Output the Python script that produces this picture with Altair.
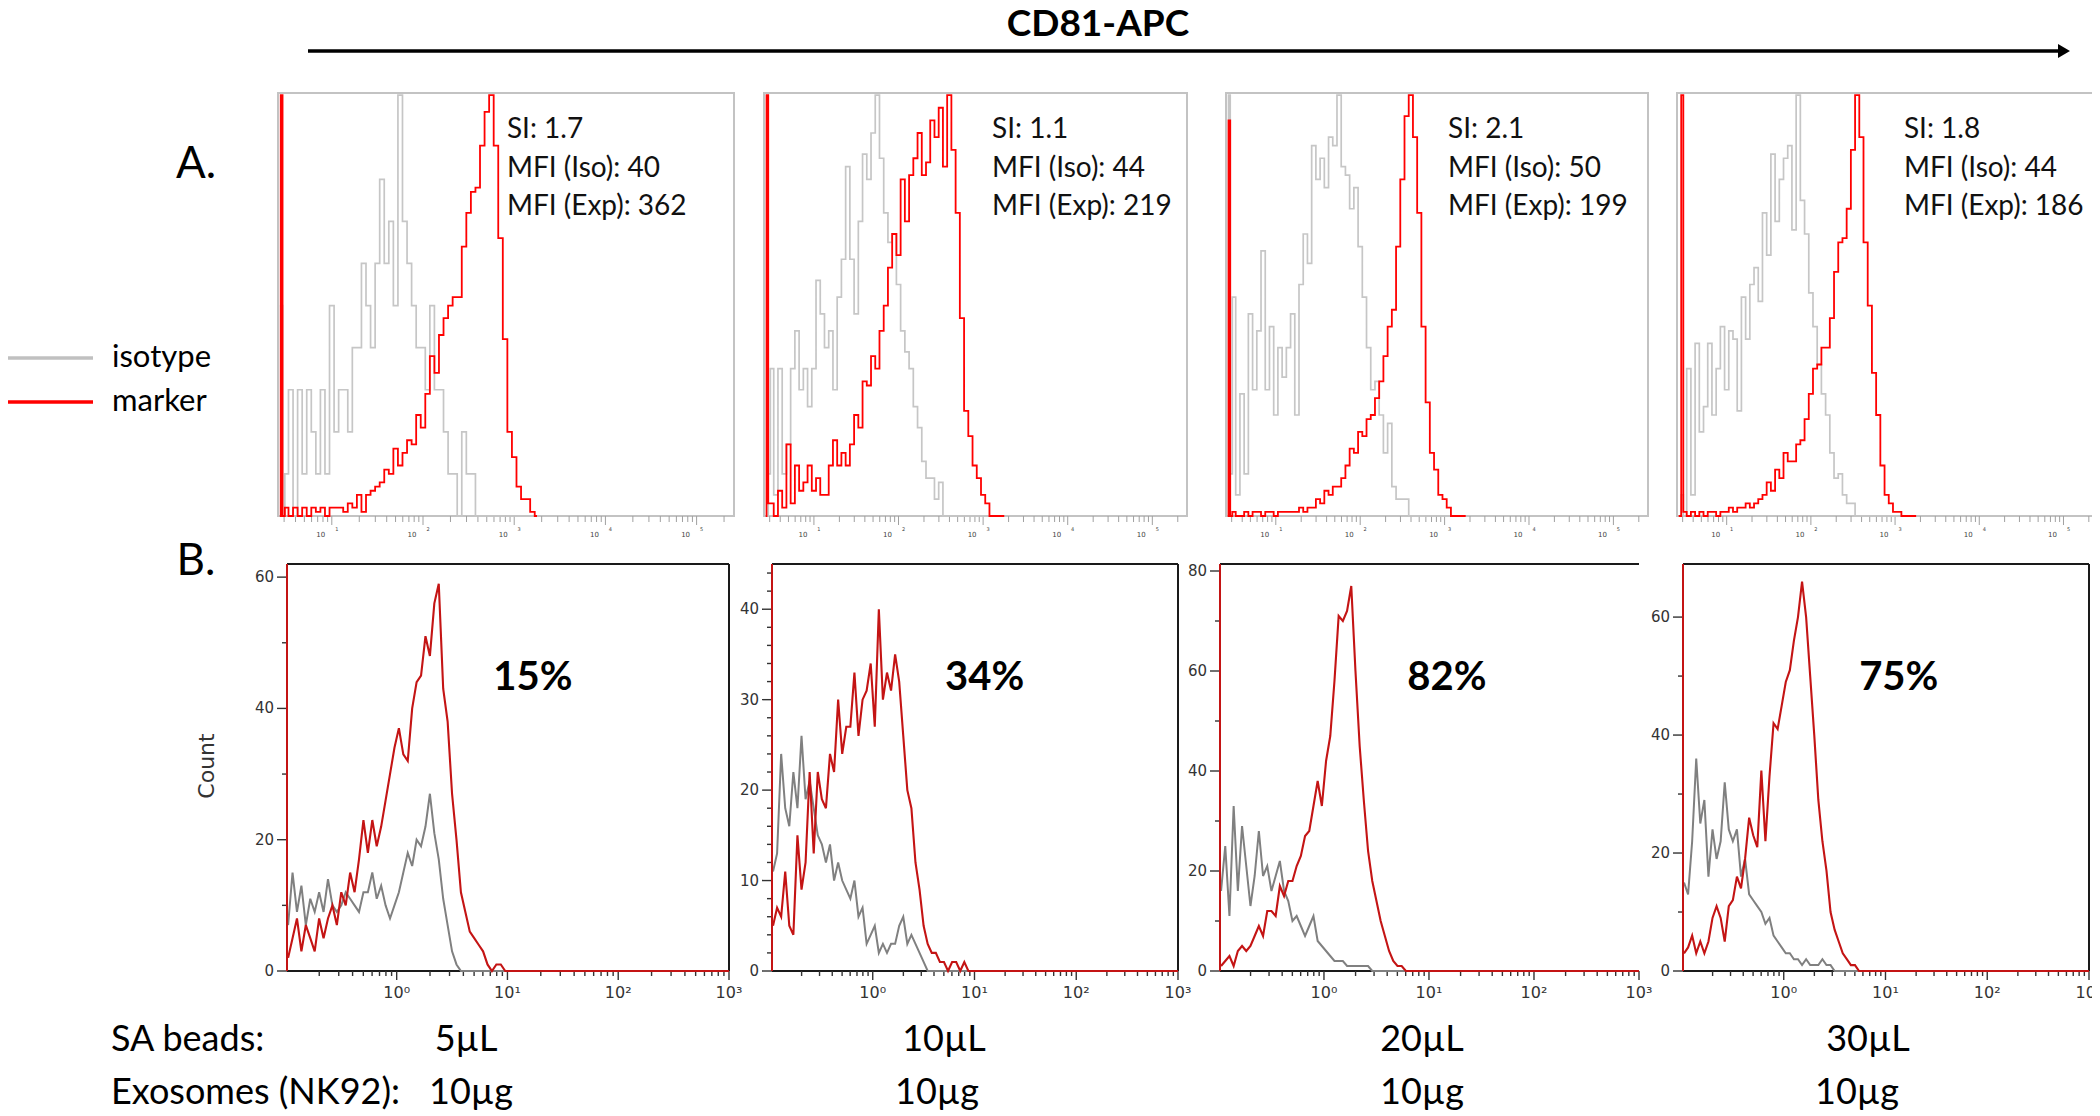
import math
import altair as alt
import pandas as pd

OFF = 8  # page margin of the html page

# ---------------------------------------------------------------- data ----
# Row A: histogram bins (log10 of CD81-APC intensity), values in % of mode
TOP_LOG_BINS = [0.43, 0.45, 0.47, 0.50, 0.55, 0.60, 0.65, 0.70, 0.75, 0.80,
                0.85, 0.90, 0.95, 1.00, 1.05, 1.10, 1.15, 1.20, 1.25, 1.30,
                1.35, 1.40, 1.45, 1.50, 1.55, 1.60, 1.65, 1.70, 1.75, 1.80,
                1.85, 1.90, 1.95, 2.00, 2.05, 2.10, 2.15, 2.20, 2.25, 2.30,
                2.35, 2.40, 2.45, 2.50, 2.55, 2.60, 2.65, 2.70, 2.75, 2.80,
                2.85, 2.90, 2.95, 3.00, 3.05, 3.10, 3.15, 3.20, 3.25]

A1_ISOTYPE = [0, 50, 0, 10, 30, 0, 30, 10, 30, 20,
              10, 30, 10, 50, 20, 30, 30, 20, 40, 40,
              60, 50, 40, 60, 80, 60, 70, 50, 100, 70,
              60, 50, 40, 40, 30, 50, 30, 30, 20, 10,
              10, 0, 20, 10, 10, 0, 0, 0, 0, 0,
              0, 0, 0, 0, 0, 0, 0, 0, 0]
A1_MARKER = [0, 100, 0, 2, 0, 2, 0, 2, 0, 2,
             1, 2, 0, 2, 2, 2, 1, 3, 2, 5,
             1, 5, 6, 7, 8, 11, 10, 16, 12, 15,
             18, 17, 24, 21, 29, 38, 34, 43, 47, 50,
             52, 52, 64, 72, 77, 78, 88, 96, 100, 88,
             66, 42, 20, 14, 7, 4, 4, 1, 0]

A2_ISOTYPE = [0, 0, 10, 35, 5, 35, 10, 17, 35, 44,
              30, 35, 26, 35, 56, 48, 40, 44, 30, 52,
              61, 83, 61, 48, 70, 86, 80, 91, 100, 85,
              72, 65, 67, 55, 44, 39, 35, 26, 21, 13,
              9, 9, 4, 8, 0, 0, 0, 0, 0, 0,
              0, 0, 0, 0, 0, 0, 0, 0, 0]
A2_MARKER = [0, 100, 3, 3, 0, 6, 2, 17, 3, 12,
             6, 8, 12, 6, 9, 5, 5, 12, 18, 12,
             15, 12, 17, 24, 21, 32, 31, 38, 35, 44,
             50, 59, 67, 62, 80, 70, 81, 85, 91, 81,
             84, 94, 90, 97, 83, 100, 87, 72, 47, 25,
             19, 12, 9, 5, 3, 0, 0, 0, 0]

A3_ISOTYPE = [0, 100, 10, 52, 5, 29, 10, 48, 30, 44,
              63, 30, 45, 24, 40, 33, 40, 48, 24, 55,
              67, 60, 88, 80, 85, 78, 90, 88, 100, 83,
              81, 73, 78, 64, 52, 40, 30, 32, 24, 15,
              22, 7, 4, 4, 4, 0, 0, 0, 0, 0,
              0, 0, 0, 0, 0, 0, 0, 0, 0]
A3_MARKER = [0, 94, 0, 1, 0, 0, 1, 0, 1, 1,
             0, 1, 1, 0, 1, 1, 1, 1, 1, 2,
             1, 2, 2, 4, 3, 6, 5, 7, 7, 9,
             12, 16, 15, 20, 19, 23, 24, 28, 32, 38,
             45, 49, 64, 80, 95, 100, 90, 72, 45, 27,
             15, 11, 5, 4, 2, 0, 0, 0, 0]

A4_ISOTYPE = [0, 0, 5, 0, 35, 5, 41, 20, 26, 41,
              24, 35, 45, 30, 44, 42, 25, 52, 42, 55,
              59, 51, 72, 62, 86, 70, 80, 85, 88, 68,
              100, 75, 67, 53, 45, 36, 29, 24, 15, 9,
              10, 5, 3, 3, 0, 0, 0, 0, 0, 0,
              0, 0, 0, 0, 0, 0, 0, 0, 0]
A4_MARKER = [0, 0, 100, 1, 0, 1, 0, 1, 0, 1,
             1, 0, 1, 1, 2, 1, 2, 2, 3, 2,
             3, 4, 5, 8, 6, 11, 9, 15, 13, 13,
             17, 18, 23, 29, 35, 36, 40, 40, 47, 58,
             65, 66, 73, 87, 100, 90, 65, 50, 34, 24,
             12, 5, 3, 1, 1, 0, 0, 0, 0]

A_INFO = [("SI: 1.7", "MFI (Iso): 40", "MFI (Exp): 362"),
          ("SI: 1.1", "MFI (Iso): 44", "MFI (Exp): 219"),
          ("SI: 2.1", "MFI (Iso): 50", "MFI (Exp): 199"),
          ("SI: 1.8", "MFI (Iso): 44", "MFI (Exp): 186")]
A_INFO_LX = [2.92, 3.105, 3.04, 3.105]

# Row B: histogram bins (log10 of intensity), counts
BOTTOM_LOG_BINS = [-0.98, -0.94, -0.90, -0.86, -0.82, -0.78, -0.74, -0.70, -0.66, -0.62,
                   -0.58, -0.54, -0.50, -0.46, -0.42, -0.38, -0.34, -0.30, -0.26, -0.22,
                   -0.18, -0.14, -0.10, -0.06, -0.02, 0.02, 0.06, 0.10, 0.14, 0.18,
                   0.22, 0.26, 0.30, 0.34, 0.38, 0.42, 0.46, 0.50, 0.54, 0.58,
                   0.62, 0.66, 0.70, 0.74, 0.78, 0.82, 0.86, 0.90, 0.94, 0.98,
                   1.02, 1.06, 1.10, 1.14, 1.18, 1.22, 1.26, 1.30, 3.00]

B1_MARKER = [2, 5, 8, 3, 7, 5, 3, 8, 5, 8,
             10, 7, 12, 10, 15, 12, 17, 23, 18, 23,
             19, 22, 26, 30, 34, 37, 33, 32, 40, 44,
             45, 51, 48, 56, 59, 43, 38, 27, 20, 12,
             9, 6, 5, 4, 3, 1, 0, 1, 1, 0,
             0, 0, 0, 0, 0, 0, 0, 0, 0]
B1_ISOTYPE = [7, 15, 9, 13, 7, 11, 9, 12, 9, 14,
              10, 9, 10, 12, 11, 10, 9, 12, 12, 15,
              11, 13, 10, 8, 10, 12, 15, 18, 16, 20,
              19, 22, 27, 21, 17, 11, 7, 3, 1, 0,
              0, 0, 0, 0, 0, 0, 0, 0, 0, 0,
              0, 0, 0, 0, 0, 0, 0, 0, 0]

B2_MARKER = [5, 7, 6, 11, 5, 4, 15, 9, 12, 22,
             13, 22, 19, 18, 24, 22, 30, 24, 27, 27,
             33, 26, 30, 31, 34, 27, 40, 30, 33, 31,
             35, 32, 26, 20, 18, 12, 9, 5, 3, 2,
             2, 1, 1, 0, 1, 1, 0, 1, 0, 0,
             0, 0, 0, 0, 0, 0, 0, 0, 0]
B2_ISOTYPE = [11, 13, 24, 18, 16, 22, 18, 26, 19, 21,
              18, 15, 14, 12, 14, 10, 12, 10, 9, 8,
              10, 6, 7, 3, 4, 5, 2, 3, 2, 3,
              3, 5, 6, 3, 4, 3, 2, 1, 0, 0,
              0, 0, 0, 0, 0, 0, 0, 0, 0, 0,
              0, 0, 0, 0, 0, 0, 0, 0, 0]

B3_MARKER = [1, 2, 3, 1, 4, 5, 4, 5, 7, 9,
             7, 12, 12, 11, 17, 15, 18, 18, 21, 23,
             27, 28, 33, 38, 33, 42, 47, 58, 71, 70,
             72, 77, 60, 45, 34, 24, 18, 14, 10, 7,
             4, 2, 1, 1, 0, 0, 0, 0, 0, 0,
             0, 0, 0, 0, 0, 0, 0, 0, 0]
B3_ISOTYPE = [16, 25, 11, 33, 16, 29, 21, 13, 19, 28,
              19, 21, 16, 19, 22, 16, 14, 10, 11, 9,
              7, 9, 11, 6, 5, 4, 3, 2, 2, 2,
              1, 1, 1, 1, 1, 1, 0, 0, 0, 0,
              0, 0, 0, 0, 0, 0, 0, 0, 0, 0,
              0, 0, 0, 0, 0, 0, 0, 0, 0]

B4_MARKER = [3, 4, 6, 3, 5, 3, 5, 9, 11, 9,
             5, 11, 12, 16, 14, 19, 26, 23, 21, 34,
             22, 33, 42, 41, 45, 49, 51, 56, 60, 66,
             60, 50, 40, 29, 22, 17, 10, 7, 5, 3,
             2, 1, 1, 0, 0, 0, 0, 0, 0, 0,
             0, 0, 0, 0, 0, 0, 0, 0, 0]
B4_ISOTYPE = [15, 13, 22, 36, 25, 29, 16, 24, 19, 22,
              32, 24, 22, 24, 16, 19, 13, 12, 11, 10,
              8, 9, 6, 5, 4, 3, 3, 2, 2, 1,
              2, 1, 1, 1, 2, 1, 1, 0, 0, 0,
              0, 0, 0, 0, 0, 0, 0, 0, 0, 0,
              0, 0, 0, 0, 0, 0, 0, 0, 0]

B_PERCENT = ["15%", "34%", "82%", "75%"]
B_PERCENT_POS = [(1.23, 44.6), (1.10, 32.4), (1.17, 58.6), (1.13, 49.7)]
B_YMAX = [62, 45, 81.4, 69]
B_YLABELS = [[0, 20, 40, 60], [0, 10, 20, 30, 40], [0, 20, 40, 60, 80], [0, 20, 40, 60]]
B_YMINOR = [[10, 30, 50],
            [2, 4, 6, 8, 12, 14, 16, 18, 22, 24, 26, 28, 32, 34, 36, 38, 42, 44],
            [10, 30, 50, 70],
            [10, 30, 50]]

TOP_MAJOR = [1, 2, 3, 4, 5]
TOP_EXPONENTS = ["1", "2", "3", "4", "5"]
BOTTOM_MAJOR = [0, 1, 2, 3]
BOTTOM_TICK_LABELS = ["10\u2070", "10\u00b9", "10\u00b2", "10\u00b3"]

SA_BEADS = ["5\u00b5L", "10\u00b5L", "20\u00b5L", "30\u00b5L"]
EXOSOMES = ["10\u00b5g", "10\u00b5g", "10\u00b5g", "10\u00b5g"]

# ------------------------------------------------------------- layout ----
TOP_DOMAIN = [0.41, 5.41]
TOP_X = [(278, 734), (764, 1187), (1226, 1648), (1677, 2098)]
TOP_Y = (516, 93)
TOP_YMAX = 100.5

BOT_DOMAIN = [-0.99, 3.0]
BOT_X = [(287, 729), (772, 1178), (1220, 1639), (1683, 2089)]
BOT_Y = (971, 564)

FONT = "Lato"
AXFONT = "DejaVu Sans"

TOP_MINOR = [math.log10(k) + d for d in range(0, 6) for k in range(2, 10)
             if TOP_DOMAIN[0] < math.log10(k) + d < TOP_DOMAIN[1]]
BOT_MINOR = [math.log10(k) + d for d in range(-1, 3) for k in range(2, 10)
             if BOT_DOMAIN[0] < math.log10(k) + d < BOT_DOMAIN[1]]


def top_panel(k, iso, mk):
    x0, x1 = TOP_X[k]
    xs = alt.Scale(domain=TOP_DOMAIN, range=[x0 - OFF, x1 - OFF], nice=False, zero=False)
    ys = alt.Scale(domain=[0, TOP_YMAX], range=[TOP_Y[0] - OFF, TOP_Y[1] - OFF], nice=False, zero=False)
    upp = TOP_YMAX / (TOP_Y[0] - TOP_Y[1])  # data units per pixel

    def X(f):
        return alt.X(f, type="quantitative", scale=xs, axis=None)

    def Y(f):
        return alt.Y(f, type="quantitative", scale=ys, axis=None)

    curves = pd.DataFrame({"lx": TOP_LOG_BINS, "iso": iso, "mk": mk})
    gray = alt.Chart(curves).mark_line(interpolate="step", color="#c6c6c6", strokeWidth=1.7).encode(
        x=X("lx"), y=Y("iso"))
    red = alt.Chart(curves).mark_line(interpolate="step", color="#ff0000", strokeWidth=1.8).encode(
        x=X("lx"), y=Y("mk"))
    frame = alt.Chart(pd.DataFrame({"a": [TOP_DOMAIN[0]], "b": [TOP_DOMAIN[1]], "c": [0.0], "d": [TOP_YMAX]})
                      ).mark_rect(fillOpacity=0, stroke="#c3c3c3", strokeWidth=2).encode(
        x=X("a"), x2="b", y=Y("c"), y2="d")
    ticks_df = pd.DataFrame({
        "lx": TOP_MAJOR + TOP_MINOR,
        "y0": [0.0] * (len(TOP_MAJOR) + len(TOP_MINOR)),
        "y1": [-9 * upp] * len(TOP_MAJOR) + [-6 * upp] * len(TOP_MINOR)})
    ticks = alt.Chart(ticks_df).mark_rule(color="#a0a0a0", strokeWidth=1).encode(
        x=X("lx"), y=Y("y0"), y2="y1")
    lab_df = pd.DataFrame({"lx": TOP_MAJOR, "y": [0.0] * 5, "e": TOP_EXPONENTS, "b": ["10"] * 5})
    lab10 = alt.Chart(lab_df).mark_text(font=AXFONT, fontSize=7, color="#444", dx=-11, dy=19,
                                        baseline="middle").encode(x=X("lx"), y=Y("y"), text="b:N")
    labexp = alt.Chart(lab_df).mark_text(font=AXFONT, fontSize=5, color="#444", dx=5, dy=13,
                                         baseline="middle").encode(x=X("lx"), y=Y("y"), text="e:N")
    info_df = pd.DataFrame({"lx": [A_INFO_LX[k]] * 3, "y": [91.7, 82.5, 73.5], "t": list(A_INFO[k])})
    info = alt.Chart(info_df).mark_text(font=FONT, fontSize=28, color="#111", align="left",
                                        baseline="middle").encode(x=X("lx"), y=Y("y"), text="t:N")
    return alt.layer(frame, ticks, lab10, labexp, gray, red, info)


def bottom_panel(k, iso, mk, right_border=True):
    x0, x1 = BOT_X[k]
    ymax = B_YMAX[k]
    xs = alt.Scale(domain=BOT_DOMAIN, range=[x0 - OFF, x1 - OFF], nice=False, zero=False)
    ys = alt.Scale(domain=[0, ymax], range=[BOT_Y[0] - OFF, BOT_Y[1] - OFF], nice=False, zero=False)
    upp_y = ymax / (BOT_Y[0] - BOT_Y[1])
    upp_x = (BOT_DOMAIN[1] - BOT_DOMAIN[0]) / (x1 - x0)

    def X(f):
        return alt.X(f, type="quantitative", scale=xs, axis=None)

    def Y(f):
        return alt.Y(f, type="quantitative", scale=ys, axis=None)

    curves = pd.DataFrame({"lx": BOTTOM_LOG_BINS, "iso": iso, "mk": mk})
    gray = alt.Chart(curves).mark_line(color="#808080", strokeWidth=2.0).encode(x=X("lx"), y=Y("iso"))
    red = alt.Chart(curves).mark_line(color="#c41414", strokeWidth=2.1).encode(x=X("lx"), y=Y("mk"))

    edges = pd.DataFrame({"x": [BOT_DOMAIN[0], BOT_DOMAIN[0]], "x2": [BOT_DOMAIN[1], BOT_DOMAIN[1]],
                          "y": [ymax, 0.0]})
    hedges = alt.Chart(edges).mark_rule(color="#1a1a1a", strokeWidth=2).encode(
        x=X("x"), x2="x2", y=Y("y"))
    vdf = pd.DataFrame({"x": [BOT_DOMAIN[1]], "y": [0.0], "y2": [ymax]})
    layers = [hedges]
    if right_border:
        layers.append(alt.Chart(vdf).mark_rule(color="#1a1a1a", strokeWidth=2).encode(
            x=X("x"), y=Y("y"), y2="y2"))
    left = alt.Chart(pd.DataFrame({"x": [BOT_DOMAIN[0]], "y": [0.0], "y2": [ymax]})).mark_rule(
        color="#c41414", strokeWidth=2).encode(x=X("x"), y=Y("y"), y2="y2")

    xt = pd.DataFrame({
        "lx": BOTTOM_MAJOR + BOT_MINOR,
        "y0": [0.0] * (len(BOTTOM_MAJOR) + len(BOT_MINOR)),
        "y1": [-9 * upp_y] * len(BOTTOM_MAJOR) + [-5 * upp_y] * len(BOT_MINOR)})
    xticks = alt.Chart(xt).mark_rule(color="#333", strokeWidth=1.4).encode(x=X("lx"), y=Y("y0"), y2="y1")
    xl = pd.DataFrame({"lx": BOTTOM_MAJOR, "y": [0.0] * 4, "t": BOTTOM_TICK_LABELS})
    xlabels = alt.Chart(xl).mark_text(font=AXFONT, fontSize=16, color="#333", dy=22,
                                      baseline="middle").encode(x=X("lx"), y=Y("y"), text="t:N")

    yl = B_YLABELS[k]
    ym = B_YMINOR[k]
    yt = pd.DataFrame({
        "x0": [BOT_DOMAIN[0]] * (len(yl) + len(ym)),
        "x1": [BOT_DOMAIN[0] - 10 * upp_x] * len(yl) + [BOT_DOMAIN[0] - 5 * upp_x] * len(ym),
        "y": yl + ym})
    yticks = alt.Chart(yt).mark_rule(color="#333", strokeWidth=1.4).encode(x=X("x0"), x2="x1", y=Y("y"))
    ylab_df = pd.DataFrame({"x": [BOT_DOMAIN[0]] * len(yl), "y": yl, "t": [str(v) for v in yl]})
    ylabels = alt.Chart(ylab_df).mark_text(font=AXFONT, fontSize=15, color="#333", align="right",
                                           dx=-13, baseline="middle").encode(x=X("x"), y=Y("y"), text="t:N")
    px, py = B_PERCENT_POS[k]
    pct = alt.Chart(pd.DataFrame({"x": [px], "y": [py], "t": [B_PERCENT[k]]})).mark_text(
        font=FONT, fontSize=40, fontWeight="bold", color="black", baseline="middle").encode(
        x=X("x"), y=Y("y"), text="t:N")
    layers += [xticks, xlabels, yticks, ylabels, gray, red, left, pct]
    return alt.layer(*layers)


def canvas():
    xs = alt.Scale(domain=[0, 2100], range=[-OFF, 2100 - OFF], nice=False, zero=False)
    ys = alt.Scale(domain=[0, 1116], range=[-OFF, 1116 - OFF], nice=False, zero=False)

    def X(f):
        return alt.X(f, type="quantitative", scale=xs, axis=None)

    def Y(f):
        return alt.Y(f, type="quantitative", scale=ys, axis=None)

    title = alt.Chart(pd.DataFrame({"x": [1098], "y": [25], "t": ["CD81-APC"]})).mark_text(
        font=FONT, fontSize=37, fontWeight="bold", baseline="middle").encode(x=X("x"), y=Y("y"), text="t:N")
    arrow_line = alt.Chart(pd.DataFrame({"x": [308], "x2": [2060], "y": [51]})).mark_rule(
        color="black", strokeWidth=3.5).encode(x=X("x"), x2="x2", y=Y("y"))
    arrow_head = alt.Chart(pd.DataFrame({"x": [2064], "y": [51]})).mark_point(
        shape="triangle-right", filled=True, size=190, color="black", opacity=1).encode(x=X("x"), y=Y("y"))
    letters = alt.Chart(pd.DataFrame({"x": [196, 196], "y": [165, 562], "t": ["A.", "B."]})).mark_text(
        font=FONT, fontSize=44, baseline="middle").encode(x=X("x"), y=Y("y"), text="t:N")
    leg = pd.DataFrame({"x": [0, 0], "x2": [93, 93], "y": [358, 402], "c": ["#c0c0c0", "#ff0000"]})
    leg_lines = alt.Chart(leg).mark_rule(strokeWidth=3.5).encode(
        x=X("x"), x2="x2", y=Y("y"), color=alt.Color("c:N", scale=None))
    leg_text = alt.Chart(pd.DataFrame({"x": [112, 112], "y": [358, 402], "t": ["isotype", "marker"]})).mark_text(
        font=FONT, fontSize=31, align="left", baseline="middle").encode(x=X("x"), y=Y("y"), text="t:N")
    count = alt.Chart(pd.DataFrame({"x": [207], "y": [766], "t": ["Count"]})).mark_text(
        font=AXFONT, fontSize=22, angle=270, color="#333", baseline="middle").encode(
        x=X("x"), y=Y("y"), text="t:N")
    row_lab = alt.Chart(pd.DataFrame({"x": [111, 111], "y": [1040, 1093],
                                      "t": ["SA beads:", "Exosomes (NK92):"]})).mark_text(
        font=FONT, fontSize=36, align="left", baseline="middle").encode(x=X("x"), y=Y("y"), text="t:N")
    vals = pd.DataFrame({"x": [466, 944, 1422, 1868, 471, 937, 1422, 1857],
                         "y": [1040] * 4 + [1093] * 4,
                         "t": SA_BEADS + EXOSOMES})
    row_vals = alt.Chart(vals).mark_text(font=FONT, fontSize=36, baseline="middle").encode(
        x=X("x"), y=Y("y"), text="t:N")
    return alt.layer(title, arrow_line, arrow_head, letters, leg_lines, leg_text, count, row_lab, row_vals)


panels = [
    top_panel(0, A1_ISOTYPE, A1_MARKER),
    top_panel(1, A2_ISOTYPE, A2_MARKER),
    top_panel(2, A3_ISOTYPE, A3_MARKER),
    top_panel(3, A4_ISOTYPE, A4_MARKER),
    bottom_panel(0, B1_ISOTYPE, B1_MARKER),
    bottom_panel(1, B2_ISOTYPE, B2_MARKER),
    bottom_panel(2, B3_ISOTYPE, B3_MARKER, right_border=False),
    bottom_panel(3, B4_ISOTYPE, B4_MARKER),
    canvas(),
]

chart = alt.layer(*panels).resolve_scale(x="independent", y="independent").properties(
    width=2084, height=1108, padding=0, autosize=alt.AutoSizeParams(type="none")
).configure_view(stroke=None)

chart.save("out.html", embed_options={"renderer": "svg", "actions": False})
